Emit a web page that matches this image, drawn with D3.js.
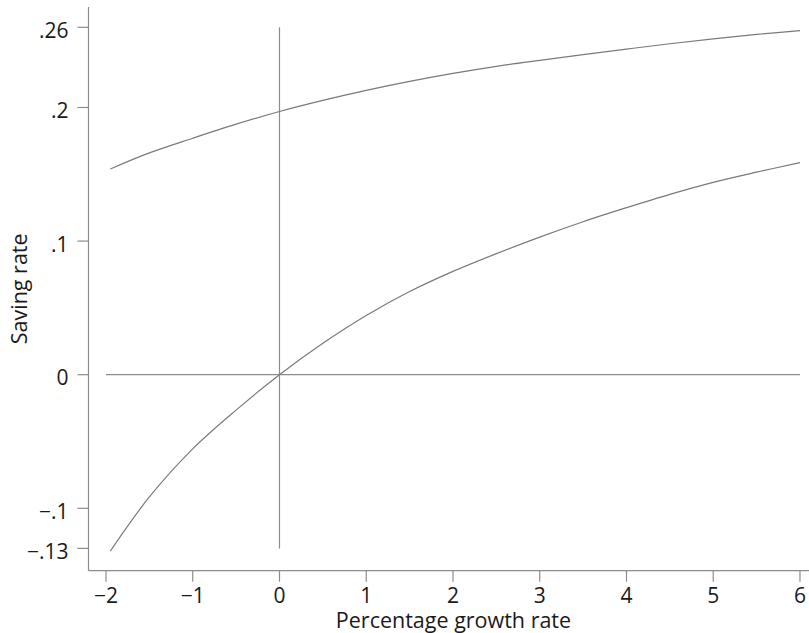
<!DOCTYPE html>
<html>
<head>
<meta charset="utf-8">
<script src="https://cdn.jsdelivr.net/npm/d3@7"></script>
<style>
  body { margin: 0; background: #fff; }
  svg text { font-family: "Open Sans", sans-serif; fill: #1a1a1a; }
</style>
</head>
<body>
<div id="chart"></div>
<script>
// growth rate (%) sampled along each curve
const growth = [-1.95, -1.5, -1, -0.5, 0, 0.5, 1, 1.5, 2, 2.5, 3, 3.5, 4, 4.5, 5, 5.5, 6];
// upper curve saving rate
const savingUpper = [0.154, 0.166, 0.177, 0.1875, 0.197, 0.2053, 0.2128, 0.2195, 0.2255, 0.2308, 0.2353, 0.2396, 0.2437, 0.2477, 0.2514, 0.2547, 0.2575];
// lower curve saving rate
const savingLower = [-0.132, -0.0915, -0.0555, -0.0265, 0, 0.0235, 0.0443, 0.0622, 0.0773, 0.0906, 0.1030, 0.1145, 0.1250, 0.1350, 0.1440, 0.1516, 0.1587];

const xTicks = [-2, -1, 0, 1, 2, 3, 4, 5, 6];
const yTicks = [0.26, 0.2, 0.1, 0, -0.1, -0.13];
const yTickLabels = [".26", ".2", ".1", "0", "\u2212.1", "\u2212.13"];

// reference lines
const vLine = { x: 0, y0: -0.13, y1: 0.26 };
const hLine = { y: 0, x0: -2, x1: 6 };

const width = 809, height = 633;
const plotLeft = 88.5, plotRight = 809, plotTop = 7, plotBottom = 570.7;
const lineColor = "#8c8c8c";

const svg = d3.select("#chart").append("svg")
    .attr("width", width).attr("height", height);

const x = d3.scaleLinear().domain([-2.2017, 6.104]).range([plotLeft, plotRight]);
const y = d3.scaleLinear().domain([-0.1467, 0.2752]).range([plotBottom, plotTop]);

// axes lines
svg.append("line")
    .attr("x1", plotLeft).attr("x2", plotLeft).attr("y1", plotTop).attr("y2", plotBottom)
    .attr("stroke", lineColor).attr("stroke-width", 1.2);
svg.append("line")
    .attr("x1", plotLeft).attr("x2", plotRight).attr("y1", plotBottom).attr("y2", plotBottom)
    .attr("stroke", lineColor).attr("stroke-width", 1.2);

// y ticks
const yg = svg.append("g");
yTicks.forEach((v, i) => {
    yg.append("line")
        .attr("x1", plotLeft - 11).attr("x2", plotLeft).attr("y1", y(v)).attr("y2", y(v))
        .attr("stroke", lineColor).attr("stroke-width", 1.2);
    yg.append("text")
        .attr("x", plotLeft - 20).attr("y", y(v) + 10.5)
        .attr("text-anchor", "end").attr("font-size", "21px")
        .text(yTickLabels[i]);
});

// x ticks
const xg = svg.append("g");
xTicks.forEach(v => {
    xg.append("line")
        .attr("x1", x(v)).attr("x2", x(v)).attr("y1", plotBottom).attr("y2", plotBottom + 11)
        .attr("stroke", lineColor).attr("stroke-width", 1.2);
    xg.append("text")
        .attr("x", x(v)).attr("y", 603)
        .attr("text-anchor", "middle").attr("font-size", "21px")
        .text(v < 0 ? "\u2212" + Math.abs(v) : v);
});

// axis titles
svg.append("text")
    .attr("x", 453.5).attr("y", 627.5)
    .attr("text-anchor", "middle").attr("font-size", "21.5px")
    .text("Percentage growth rate");
svg.append("text")
    .attr("transform", `translate(27, ${(plotTop + plotBottom) / 2}) rotate(-90)`)
    .attr("text-anchor", "middle").attr("font-size", "21.5px")
    .text("Saving rate");

// reference lines at zero
svg.append("line")
    .attr("x1", x(vLine.x)).attr("x2", x(vLine.x))
    .attr("y1", y(vLine.y1)).attr("y2", y(vLine.y0))
    .attr("stroke", lineColor).attr("stroke-width", 1.2);
svg.append("line")
    .attr("x1", x(hLine.x0)).attr("x2", x(hLine.x1))
    .attr("y1", y(hLine.y)).attr("y2", y(hLine.y))
    .attr("stroke", lineColor).attr("stroke-width", 1.2);

// curves
const line = d3.line()
    .x(d => x(d[0])).y(d => y(d[1]))
    .curve(d3.curveCatmullRom.alpha(0.5));

[savingUpper, savingLower].forEach(series => {
    svg.append("path")
        .datum(growth.map((g, i) => [g, series[i]]))
        .attr("d", line)
        .attr("fill", "none")
        .attr("stroke", "#7a7a7a")
        .attr("stroke-width", 1.2);
});
</script>
</body>
</html>
